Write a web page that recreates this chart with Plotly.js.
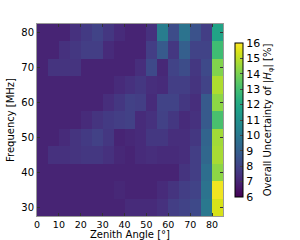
<!DOCTYPE html>
<html><head><meta charset="utf-8">
<script src="https://cdn.plot.ly/plotly-3.0.1.min.js"></script>
<style>html,body{margin:0;padding:0;background:#fff}#c{width:300px;height:240px}</style>
</head><body><div id="c"></div>
<script>
var zenith = [2.5,7.5,12.5,17.5,22.5,27.5,32.5,37.5,42.5,47.5,52.5,57.5,62.5,67.5,72.5,77.5,82.5];
var frequency = [30,35,40,45,50,55,60,65,70,75,80];
var r30 = [7.0,7.0,7.0,7.0,7.0,7.0,7.0,7.0,7.2,7.2,7.2,7.4,7.8,8.0,8.2,10.0,15.4];
var r35 = [7.0,7.0,7.0,7.0,7.0,7.0,7.0,7.1,7.0,7.0,7.0,7.2,7.5,7.8,8.0,9.8,15.8];
var r40 = [7.0,7.0,7.0,7.0,7.0,7.0,7.0,7.0,7.0,7.0,7.0,7.0,7.0,7.5,7.8,9.6,14.3];
var r45 = [7.0,7.4,7.4,7.5,7.6,7.6,7.4,7.1,7.0,7.2,7.3,7.2,7.2,7.3,7.8,9.3,14.7];
var r50 = [7.0,7.0,7.2,7.5,7.7,7.9,7.6,7.0,7.1,7.2,7.6,7.6,7.3,7.3,7.6,9.2,14.6];
var r55 = [7.0,7.0,7.0,7.0,7.2,7.5,7.7,7.8,7.9,7.2,7.4,7.9,7.6,7.2,7.4,8.8,13.1];
var r60 = [7.0,7.0,7.0,7.0,7.0,7.0,7.3,7.6,7.9,7.8,7.2,8.0,8.0,7.6,7.3,8.8,14.3];
var r65 = [7.0,7.0,7.0,7.0,7.0,7.0,7.0,7.2,7.4,7.6,7.3,7.2,7.8,7.8,7.5,8.0,14.8];
var r70 = [7.0,7.5,7.5,7.5,7.0,7.0,7.0,7.0,7.0,7.3,8.2,7.1,8.0,8.3,7.6,8.2,14.1];
var r75 = [7.0,7.0,7.4,7.6,7.8,7.8,7.2,7.0,7.0,7.0,7.8,8.8,7.6,9.0,8.0,8.0,12.9];
var r80 = [7.0,7.0,7.0,7.4,7.7,8.0,7.6,7.2,7.0,7.0,7.4,10.2,8.3,9.8,8.5,7.8,11.8];
var xTicks = [0,10,20,30,40,50,60,70,80];
var yTicks = [30,40,50,60,70,80];
var cbTicks = [6,7,8,9,10,11,12,13,14,15,16];

var font = {family:'DejaVu Sans', size:10, color:'#000'};
var tfont = {family:'DejaVu Sans', size:9.5, color:'#000'};
var trace = {
  type:'heatmap', x:zenith, y:frequency,
  z:[r30,r35,r40,r45,r50,r55,r60,r65,r70,r75,r80],
  colorscale:'Viridis', zmin:6, zmax:16, xgap:0, ygap:0,
  colorbar:{
    x:1.065, xanchor:'left', xref:'paper', y:0.5, yanchor:'middle', len:0.8,
    thickness:8, outlinewidth:1, outlinecolor:'#000',
    tickvals:cbTicks, ticktext:cbTicks.map(String), ticks:'inside', ticklen:3,
    tickfont:{family:'DejaVu Sans', size:11, color:'#000'}, xpad:0, ypad:0,
    title:{text:'Overall Uncertainty of |<i>H</i><sub>φ</sub>| [%]', side:'right',
      font:{family:'DejaVu Sans', size:10, color:'#000'}}
  }
};
var layout = {
  width:300, height:240,
  margin:{l:37, r:77, t:24, b:24},
  paper_bgcolor:'#fff', plot_bgcolor:'#fff', font:font,
  xaxis:{range:[0,85], tickvals:xTicks, ticktext:xTicks.map(String), ticks:'inside', ticklen:3,
    tickcolor:'#333', showline:true, linecolor:'#999', linewidth:1, mirror:'ticks', showgrid:false, zeroline:false,
    tickfont:tfont},
  yaxis:{range:[27.5,82.5], tickvals:yTicks, ticktext:yTicks.map(String), ticks:'inside', ticklen:3,
    tickcolor:'#333', showline:true, linecolor:'#999', linewidth:1, mirror:'ticks', showgrid:false, zeroline:false,
    tickfont:font, title:{text:'Frequency [MHz]', font:font, standoff:4}},
  annotations:[{text:'Zenith Angle [°]', xref:'paper', yref:'paper', x:0.5, y:-0.094,
    xanchor:'center', yanchor:'middle', showarrow:false, font:font}]
};
Plotly.newPlot('c',[trace],layout,{displayModeBar:false, staticPlot:true});
</script></body></html>
